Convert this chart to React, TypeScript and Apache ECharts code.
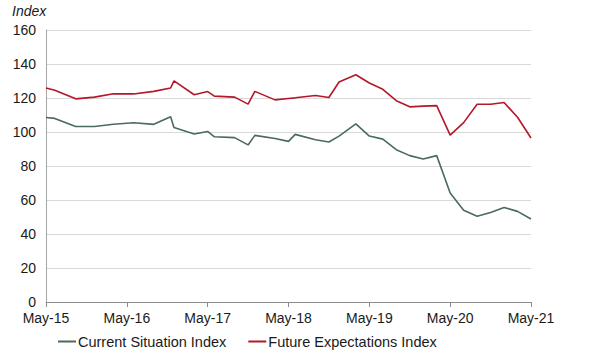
import React, { useEffect, useRef } from "react";
import * as echarts from "echarts";

// months since May-2015
const months = [0, 1.3, 4.4, 7.2, 10, 13, 16, 18.5, 19, 22, 24, 25, 28, 30, 31, 34, 36, 37, 40, 42, 43.5, 46, 48, 50, 52, 54, 56, 58, 60, 62, 64, 66, 68, 70, 72];

const currentSituation = [108.5, 108.0, 103.2, 103.2, 104.6, 105.4, 104.5, 109.0, 102.6, 98.8, 100.3, 97.2, 96.7, 92.4, 98.0, 96.2, 94.5, 98.6, 95.4, 94.1, 97.6, 104.8, 97.6, 95.8, 89.6, 86.1, 84.1, 86.1, 64.1, 54.0, 50.4, 52.7, 55.6, 53.3, 48.8];

const futureExpectations = [125.9, 124.6, 119.5, 120.5, 122.5, 122.4, 123.9, 125.9, 130.1, 121.9, 123.8, 121.1, 120.5, 116.4, 123.9, 118.9, 119.7, 120.1, 121.5, 120.3, 129.4, 133.7, 128.8, 125.1, 118.4, 114.8, 115.2, 115.5, 98.2, 105.5, 116.3, 116.3, 117.4, 108.7, 96.5];

const xTickLabels = ["May-15", "May-16", "May-17", "May-18", "May-19", "May-20", "May-21"];
const seriesNames = ["Current Situation Index", "Future Expectations Index"];
const colors = ["#4A6B5C", "#B3172A"];

export default function App() {
  const ref = useRef<HTMLDivElement>(null);
  useEffect(() => {
    const chart = echarts.init(ref.current!, null, { renderer: "svg" });
    const font = "Arial, 'Liberation Sans', sans-serif";
    chart.setOption({
      animation: false,
      textStyle: { fontFamily: font },
      grid: { left: 46, right: 69, top: 30, bottom: 59, containLabel: false },
      graphic: [
        {
          type: "text",
          left: 12,
          top: 4,
          style: { text: "Index", font: "italic 14px Arial, 'Liberation Sans', sans-serif", fill: "#1a1a1a" },
        },
      ],
      legend: {
        bottom: 7,
        left: 53,
        itemWidth: 18,
        itemHeight: 2,
        itemGap: 22,
        icon: "rect",
        textStyle: { fontSize: 14.5, color: "#1a1a1a", fontFamily: font, padding: [0, 0, 0, -3] },
        data: seriesNames,
      },
      xAxis: {
        type: "value",
        min: 0,
        max: 72,
        interval: 12,
        axisLine: { lineStyle: { color: "#8c8c8c", width: 1 } },
        axisTick: { show: true, length: 5, lineStyle: { color: "#8c8c8c" } },
        splitLine: { show: false },
        axisLabel: {
          fontSize: 14,
          color: "#1a1a1a",
          margin: 9,
          formatter: (v: number) => xTickLabels[Math.round(v / 12)] ?? "",
        },
      },
      yAxis: {
        type: "value",
        min: 0,
        max: 160,
        interval: 20,
        axisLine: { show: true, lineStyle: { color: "#a6a6a6", width: 1 } },
        axisTick: { show: false },
        splitLine: { lineStyle: { color: "#d9d9d9", width: 1 } },
        axisLabel: { fontSize: 14, color: "#1a1a1a", margin: 10 },
      },
      series: [
        {
          name: seriesNames[0],
          type: "line",
          data: months.map((m, i) => [m, currentSituation[i]]),
          showSymbol: false,
          symbol: "none",
          lineStyle: { color: colors[0], width: 1.6 },
          itemStyle: { color: colors[0] },
        },
        {
          name: seriesNames[1],
          type: "line",
          data: months.map((m, i) => [m, futureExpectations[i]]),
          showSymbol: false,
          symbol: "none",
          lineStyle: { color: colors[1], width: 1.6 },
          itemStyle: { color: colors[1] },
        },
      ],
    });
    return () => chart.dispose();
  }, []);
  return <div ref={ref} style={{ width: 600, height: 361, position: "absolute", left: 0, top: 0 }} />;
}
